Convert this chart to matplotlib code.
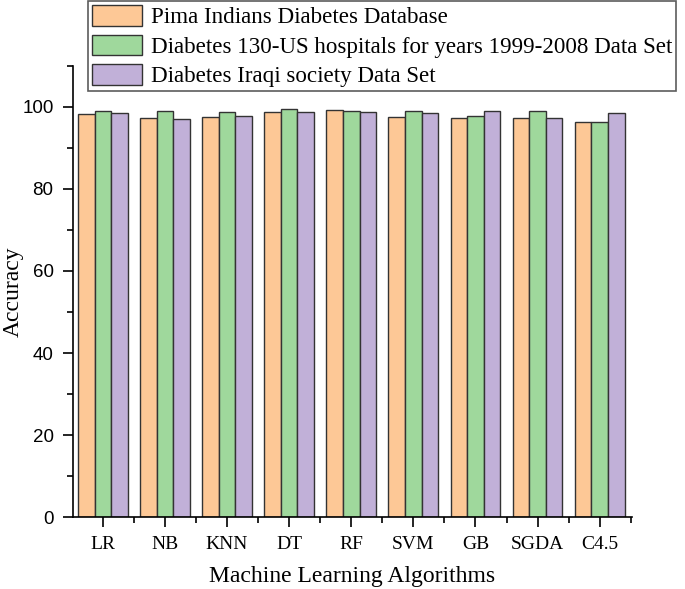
import matplotlib
matplotlib.use("Agg")
from matplotlib import pyplot as plt
from matplotlib.ticker import MultipleLocator
import numpy as np

# Accuracy of each algorithm on the three data sets

algorithms = ["LR", "NB", "KNN", "DT", "RF", "SVM", "GB", "SGDA", "C4.5"]

datasets = ["Pima Indians Diabetes Database",
            "Diabetes 130-US hospitals for years 1999-2008 Data Set",
            "Diabetes Iraqi society Data Set"]

pima = [98.3, 97.2, 97.6, 98.7, 99.2, 97.6, 97.2, 97.2, 96.3]
hospitals = [98.9, 98.9, 98.8, 99.5, 99.0, 98.9, 97.9, 99.1, 96.3]
iraqi = [98.6, 97.0, 97.9, 98.7, 98.7, 98.6, 99.0, 97.2, 98.5]

colors = ['#fdc896', '#9fd89c', '#c1b0d8']

plt.rcParams['font.family'] = 'Liberation Serif'

fig = plt.figure(figsize=(6.85, 5.89), dpi=100)
ax = fig.add_axes([0.1066, 0.1222, 0.816, 0.7658])

x = np.arange(len(algorithms))
w = 0.267
for i, vals in enumerate([pima, hospitals, iraqi]):
    ax.bar(x + (i - 1) * w, vals, w, color=colors[i], edgecolor='#333333',
           linewidth=1.0, label=datasets[i])

ax.set_xlim(-0.48, 8.52)
ax.set_ylim(0, 110)
ax.set_xticks(x)
ax.set_xticklabels(algorithms)
ax.xaxis.set_minor_locator(MultipleLocator(1, offset=0.5))
ax.set_yticks([0, 20, 40, 60, 80, 100])
ax.yaxis.set_minor_locator(MultipleLocator(10))

ax.tick_params(which='major', direction='out', length=7, width=1.2, pad=7)
ax.tick_params(which='minor', direction='out', length=4, width=1.2)
ax.tick_params(axis='x', labelsize=14)
ax.tick_params(axis='y', labelsize=13.5, labelfontfamily='Liberation Sans')
ax.spines['top'].set_visible(False)
ax.spines['right'].set_visible(False)
ax.spines['left'].set_linewidth(1.2)
ax.spines['bottom'].set_linewidth(1.2)

ax.set_xlabel('Machine Learning Algorithms', fontsize=17)
ax.xaxis.set_label_coords(0.5, -0.108)
ax.set_ylabel('Accuracy', fontsize=17)
ax.yaxis.set_label_coords(-0.088, 0.5)

leg = fig.legend(loc='upper left', bbox_to_anchor=(88 / 685, 0.998),
                 fontsize=16.6, frameon=True, fancybox=False, borderaxespad=0,
                 handlelength=2.2, handleheight=1.0, labelspacing=0.28,
                 handletextpad=0.36, borderpad=0.16)
leg.get_frame().set_edgecolor('#333333')
leg.get_frame().set_linewidth(1.2)

fig.savefig('out.png', dpi=100)
